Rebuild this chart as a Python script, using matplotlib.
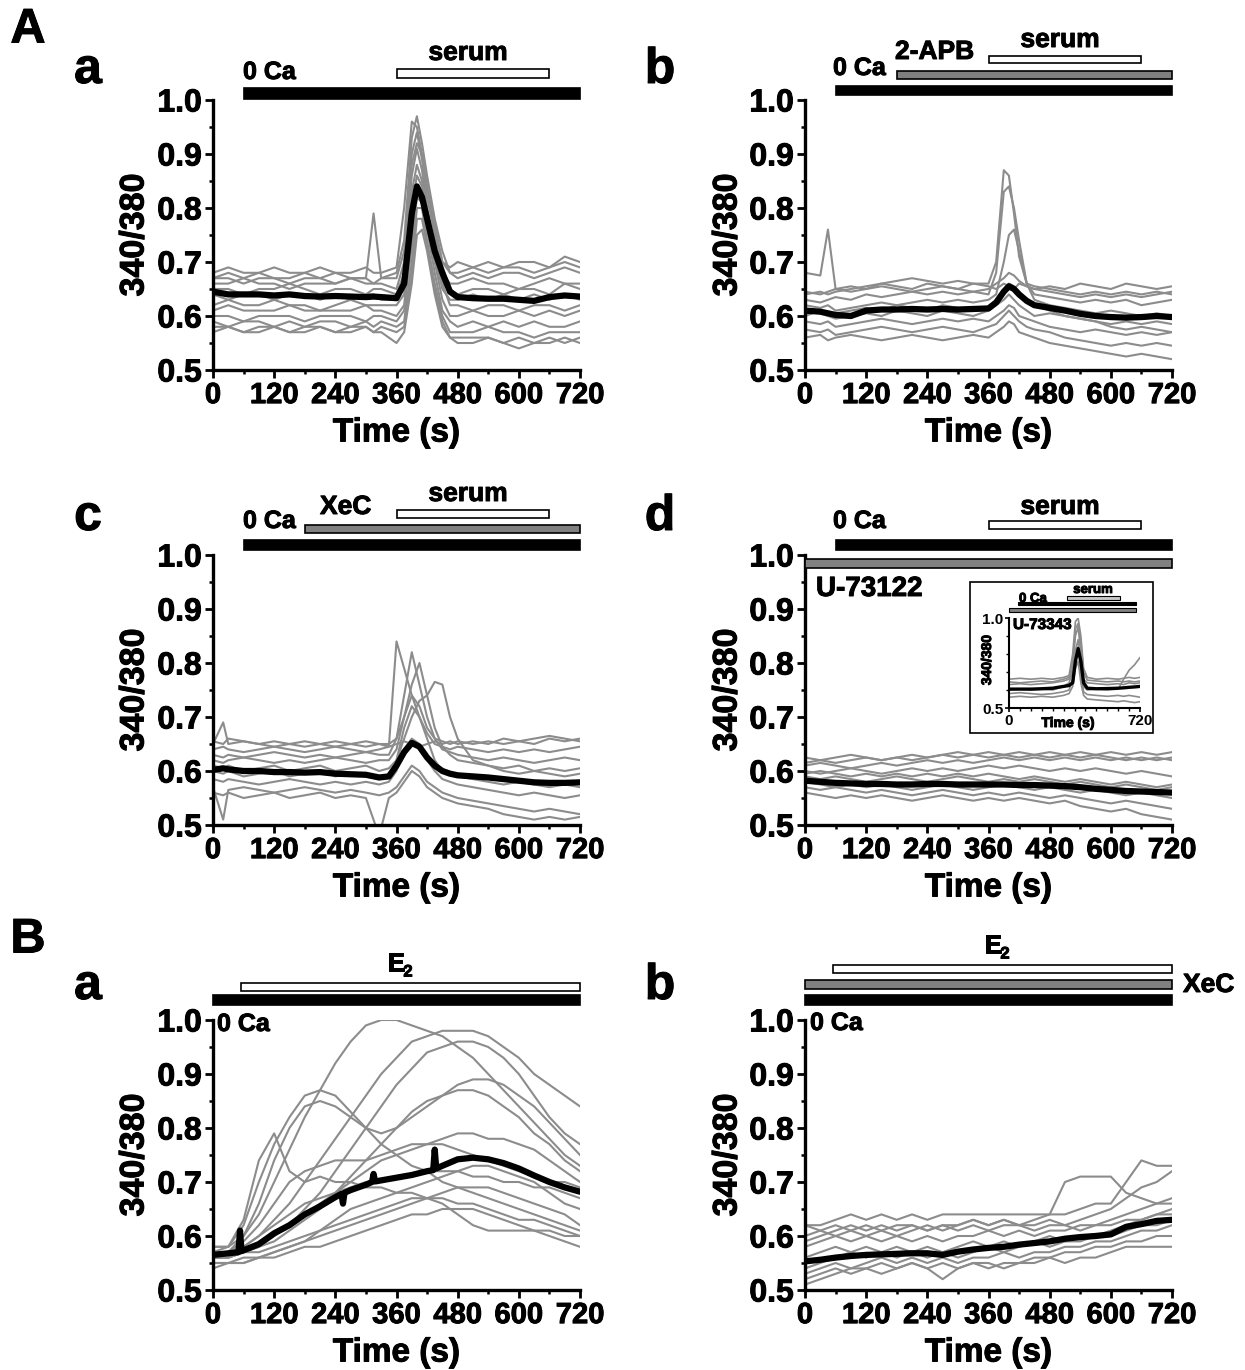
import matplotlib.pyplot as plt
import matplotlib.transforms as mtransforms
import matplotlib.patheffects as pe
from matplotlib.patches import Rectangle
from matplotlib.ticker import MultipleLocator

plt.rcParams['font.family'] = ['Liberation Sans', 'DejaVu Sans']
plt.rcParams['font.weight'] = 'bold'

W, H = 1245, 1370
GRAY = '#8c8c8c'
BARGRAY = '#808080'
HEAVY = [pe.withStroke(linewidth=0.7, foreground='black')]

# ---------------- data (ratio 340/380) ----------------
# A-a : 0 Ca, serum
t_aa = [0, 30, 60, 90, 120, 150, 180, 210, 240, 270, 300, 315, 330, 360,
        375, 390, 400, 410, 420, 435, 450, 465, 480,
        510, 540, 570, 600, 630, 660, 690, 720]
cells_aa = [
    [0.68, 0.69, 0.68, 0.68, 0.69, 0.68, 0.68, 0.69, 0.68, 0.68, 0.69, 0.68, 0.68, 0.69,
     0.80, 0.96, 0.95, 0.90, 0.84, 0.76, 0.70, 0.69, 0.70, 0.69, 0.70, 0.69, 0.70, 0.70, 0.69, 0.71, 0.70],
    [0.67, 0.68, 0.67, 0.68, 0.67, 0.67, 0.68, 0.67, 0.68, 0.67, 0.67, 0.79, 0.67, 0.68,
     0.74, 0.93, 0.97, 0.92, 0.86, 0.78, 0.72, 0.68, 0.67, 0.68, 0.67, 0.68, 0.68, 0.67, 0.68, 0.69, 0.68],
    [0.66, 0.66, 0.67, 0.66, 0.66, 0.65, 0.66, 0.66, 0.66, 0.67, 0.66, 0.66, 0.66, 0.65,
     0.70, 0.90, 0.94, 0.89, 0.82, 0.75, 0.68, 0.66, 0.66, 0.67, 0.66, 0.66, 0.65, 0.66, 0.67, 0.66, 0.66],
    [0.65, 0.65, 0.64, 0.65, 0.65, 0.66, 0.65, 0.64, 0.65, 0.65, 0.64, 0.65, 0.65, 0.64,
     0.68, 0.86, 0.91, 0.87, 0.80, 0.72, 0.66, 0.65, 0.64, 0.65, 0.65, 0.64, 0.65, 0.65, 0.64, 0.66, 0.65],
    [0.64, 0.63, 0.64, 0.64, 0.63, 0.64, 0.64, 0.63, 0.64, 0.63, 0.64, 0.64, 0.63, 0.63,
     0.66, 0.83, 0.88, 0.85, 0.79, 0.71, 0.65, 0.63, 0.63, 0.64, 0.63, 0.64, 0.63, 0.64, 0.63, 0.64, 0.63],
    [0.62, 0.63, 0.62, 0.62, 0.63, 0.62, 0.62, 0.61, 0.62, 0.63, 0.62, 0.62, 0.62, 0.62,
     0.64, 0.80, 0.86, 0.84, 0.80, 0.73, 0.66, 0.62, 0.62, 0.61, 0.62, 0.62, 0.61, 0.62, 0.62, 0.61, 0.62],
    [0.61, 0.62, 0.61, 0.61, 0.61, 0.62, 0.61, 0.61, 0.61, 0.61, 0.62, 0.61, 0.61, 0.60,
     0.62, 0.76, 0.84, 0.82, 0.77, 0.70, 0.63, 0.60, 0.60, 0.61, 0.60, 0.60, 0.61, 0.60, 0.61, 0.60, 0.61],
    [0.60, 0.60, 0.59, 0.60, 0.60, 0.60, 0.59, 0.60, 0.60, 0.60, 0.59, 0.60, 0.60, 0.59,
     0.61, 0.73, 0.82, 0.81, 0.76, 0.68, 0.61, 0.59, 0.58, 0.59, 0.58, 0.59, 0.58, 0.59, 0.58, 0.58, 0.59],
    [0.59, 0.58, 0.59, 0.59, 0.58, 0.59, 0.58, 0.59, 0.59, 0.58, 0.59, 0.58, 0.59, 0.58,
     0.59, 0.70, 0.80, 0.80, 0.74, 0.66, 0.60, 0.57, 0.57, 0.57, 0.58, 0.57, 0.57, 0.56, 0.57, 0.57, 0.57],
    [0.58, 0.58, 0.57, 0.58, 0.58, 0.57, 0.58, 0.58, 0.57, 0.58, 0.58, 0.57, 0.58, 0.57,
     0.58, 0.68, 0.78, 0.78, 0.73, 0.65, 0.59, 0.56, 0.56, 0.56, 0.56, 0.55, 0.56, 0.55, 0.56, 0.55, 0.56],
    [0.57, 0.58, 0.57, 0.57, 0.58, 0.57, 0.57, 0.58, 0.57, 0.57, 0.58, 0.57, 0.57, 0.55,
     0.57, 0.66, 0.75, 0.76, 0.72, 0.64, 0.58, 0.56, 0.55, 0.55, 0.56, 0.55, 0.54, 0.55, 0.55, 0.56, 0.55],
    [0.67, 0.67, 0.66, 0.67, 0.67, 0.66, 0.67, 0.67, 0.66, 0.67, 0.67, 0.66, 0.67, 0.67,
     0.72, 0.88, 0.92, 0.90, 0.84, 0.77, 0.70, 0.68, 0.68, 0.69, 0.68, 0.69, 0.69, 0.68, 0.69, 0.70, 0.69],
]
mean_aa = [0.645, 0.64, 0.64, 0.64, 0.638, 0.64, 0.637, 0.636, 0.637, 0.636, 0.635, 0.636, 0.635, 0.633,
           0.66, 0.79, 0.84, 0.82, 0.78, 0.72, 0.68, 0.645, 0.635,
           0.633, 0.632, 0.632, 0.63, 0.628, 0.635, 0.638, 0.636]

# A-b : 0 Ca, 2-APB, serum
t_ab = [0, 30, 45, 60, 90, 120, 150, 180, 210, 240,
        270, 300, 330, 360, 375, 390, 400, 410, 420, 435,
        450, 480, 510, 540, 570, 600, 630, 660, 690, 720]
cells_ab = [
    [0.68, 0.675, 0.76, 0.65, 0.655, 0.65, 0.66, 0.655, 0.65, 0.66,
     0.655, 0.65, 0.66, 0.655, 0.65, 0.66, 0.655, 0.65, 0.66, 0.655,
     0.65, 0.655, 0.65, 0.66, 0.655, 0.65, 0.66, 0.655, 0.65, 0.655],
    [0.64, 0.645, 0.64, 0.645, 0.65, 0.655, 0.66, 0.665, 0.67, 0.665,
     0.66, 0.665, 0.66, 0.66, 0.70, 0.87, 0.86, 0.79, 0.71, 0.66,
     0.655, 0.65, 0.645, 0.64, 0.645, 0.64, 0.645, 0.64, 0.645, 0.64],
    [0.63, 0.625, 0.63, 0.635, 0.63, 0.64, 0.635, 0.64, 0.645, 0.64,
     0.645, 0.64, 0.645, 0.64, 0.68, 0.83, 0.84, 0.80, 0.74, 0.66,
     0.64, 0.635, 0.63, 0.625, 0.63, 0.625, 0.63, 0.62, 0.625, 0.63],
    [0.62, 0.615, 0.62, 0.61, 0.615, 0.62, 0.625, 0.62, 0.625, 0.63,
     0.625, 0.63, 0.625, 0.63, 0.64, 0.70, 0.75, 0.76, 0.72, 0.66,
     0.63, 0.62, 0.615, 0.61, 0.605, 0.61, 0.605, 0.60, 0.605, 0.60],
    [0.60, 0.61, 0.60, 0.595, 0.60, 0.605, 0.60, 0.61, 0.605, 0.60,
     0.61, 0.605, 0.60, 0.61, 0.62, 0.63, 0.64, 0.63, 0.62, 0.61,
     0.60, 0.605, 0.60, 0.595, 0.59, 0.585, 0.59, 0.585, 0.59, 0.585],
    [0.59, 0.585, 0.59, 0.58, 0.585, 0.59, 0.595, 0.59, 0.585, 0.59,
     0.595, 0.59, 0.595, 0.59, 0.60, 0.61, 0.62, 0.615, 0.60, 0.595,
     0.59, 0.58, 0.575, 0.57, 0.575, 0.57, 0.565, 0.57, 0.565, 0.57],
    [0.575, 0.57, 0.575, 0.565, 0.57, 0.575, 0.58, 0.575, 0.57, 0.575,
     0.58, 0.575, 0.57, 0.58, 0.585, 0.60, 0.61, 0.60, 0.59, 0.58,
     0.575, 0.57, 0.56, 0.555, 0.55, 0.545, 0.55, 0.545, 0.55, 0.545],
    [0.56, 0.565, 0.555, 0.56, 0.565, 0.56, 0.555, 0.56, 0.565, 0.56,
     0.555, 0.56, 0.565, 0.56, 0.57, 0.58, 0.59, 0.585, 0.57, 0.565,
     0.56, 0.55, 0.545, 0.54, 0.535, 0.53, 0.525, 0.53, 0.525, 0.52],
    [0.645, 0.64, 0.645, 0.65, 0.645, 0.65, 0.655, 0.65, 0.645, 0.65,
     0.655, 0.65, 0.645, 0.65, 0.66, 0.67, 0.68, 0.675, 0.665, 0.655,
     0.65, 0.645, 0.64, 0.635, 0.64, 0.635, 0.64, 0.635, 0.64, 0.645],
    [0.61, 0.605, 0.60, 0.605, 0.61, 0.615, 0.61, 0.62, 0.615, 0.61,
     0.62, 0.615, 0.61, 0.615, 0.63, 0.65, 0.66, 0.655, 0.645, 0.63,
     0.62, 0.61, 0.60, 0.595, 0.59, 0.58, 0.575, 0.58, 0.575, 0.57],
]
mean_ab = [0.61, 0.608, 0.605, 0.602, 0.60, 0.61, 0.612, 0.612, 0.613, 0.612,
           0.613, 0.612, 0.613, 0.614, 0.625, 0.645, 0.655, 0.65, 0.64, 0.628,
           0.62, 0.615, 0.61, 0.604, 0.60, 0.598, 0.597, 0.598, 0.60, 0.598]

# A-c : 0 Ca, XeC, serum
t_ac = [0, 20, 30, 60, 90, 120, 150, 180, 210, 240,
        270, 300, 326, 345, 360,
        375, 390, 405, 420, 435, 450, 465, 480,
        510, 540, 570, 600, 630, 660, 690, 720]
cells_ac = [
    [0.65, 0.69, 0.65, 0.655, 0.65, 0.645, 0.65, 0.655, 0.65, 0.645, 0.65, 0.655, 0.65, 0.645, 0.65,
     0.655, 0.65, 0.645, 0.65, 0.655, 0.65, 0.655, 0.65, 0.655, 0.65, 0.66, 0.655, 0.65, 0.66, 0.655, 0.66],
    [0.64, 0.645, 0.64, 0.635, 0.64, 0.645, 0.64, 0.635, 0.64, 0.645, 0.64, 0.635, 0.64, 0.645, 0.84,
     0.79, 0.74, 0.70, 0.67, 0.65, 0.645, 0.64, 0.645, 0.64, 0.635, 0.64, 0.635, 0.64, 0.635, 0.64, 0.645],
    [0.63, 0.625, 0.63, 0.625, 0.63, 0.635, 0.63, 0.625, 0.63, 0.625, 0.63, 0.635, 0.63, 0.63, 0.66,
     0.74, 0.82, 0.76, 0.70, 0.66, 0.64, 0.635, 0.63, 0.625, 0.62, 0.625, 0.62, 0.615, 0.62, 0.625, 0.62],
    [0.62, 0.615, 0.62, 0.625, 0.62, 0.615, 0.62, 0.615, 0.62, 0.625, 0.62, 0.615, 0.62, 0.62, 0.64,
     0.70, 0.76, 0.80, 0.74, 0.68, 0.645, 0.63, 0.62, 0.615, 0.61, 0.605, 0.61, 0.60, 0.605, 0.60, 0.605],
    [0.61, 0.605, 0.61, 0.60, 0.605, 0.61, 0.60, 0.605, 0.61, 0.60, 0.605, 0.61, 0.60, 0.605, 0.62,
     0.66, 0.70, 0.73, 0.74, 0.765, 0.76, 0.70, 0.66, 0.62, 0.61, 0.60, 0.595, 0.60, 0.595, 0.59, 0.595],
    [0.60, 0.595, 0.60, 0.59, 0.595, 0.60, 0.59, 0.595, 0.60, 0.59, 0.595, 0.59, 0.585, 0.59, 0.62,
     0.68, 0.72, 0.70, 0.66, 0.62, 0.60, 0.595, 0.59, 0.585, 0.58, 0.575, 0.58, 0.575, 0.57, 0.575, 0.57],
    [0.585, 0.58, 0.585, 0.58, 0.575, 0.58, 0.585, 0.58, 0.575, 0.58, 0.575, 0.58, 0.575, 0.58, 0.60,
     0.64, 0.66, 0.65, 0.62, 0.60, 0.585, 0.58, 0.575, 0.57, 0.565, 0.56, 0.555, 0.56, 0.555, 0.55, 0.555],
    [0.57, 0.51, 0.565, 0.57, 0.565, 0.56, 0.565, 0.57, 0.565, 0.56, 0.565, 0.56, 0.555, 0.56, 0.57,
     0.59, 0.61, 0.60, 0.58, 0.57, 0.56, 0.555, 0.55, 0.545, 0.54, 0.535, 0.53, 0.525, 0.53, 0.525, 0.52],
    [0.56, 0.555, 0.56, 0.55, 0.555, 0.56, 0.55, 0.555, 0.56, 0.55, 0.555, 0.55, 0.48, 0.55, 0.56,
     0.58, 0.60, 0.59, 0.57, 0.56, 0.55, 0.545, 0.54, 0.535, 0.53, 0.52, 0.515, 0.51, 0.515, 0.51, 0.515],
    [0.655, 0.65, 0.66, 0.655, 0.65, 0.655, 0.65, 0.645, 0.65, 0.655, 0.65, 0.645, 0.65, 0.65, 0.66,
     0.70, 0.74, 0.72, 0.68, 0.66, 0.655, 0.65, 0.655, 0.65, 0.655, 0.65, 0.655, 0.66, 0.665, 0.66, 0.655],
]
mean_ac = [0.602, 0.605, 0.603, 0.60, 0.60, 0.598, 0.598, 0.597, 0.598, 0.595, 0.594, 0.593, 0.588, 0.59, 0.61,
           0.635, 0.652, 0.645, 0.625, 0.61, 0.60, 0.595, 0.592,
           0.59, 0.588, 0.585, 0.582, 0.579, 0.578, 0.578, 0.579]

# A-d : U-73122 throughout
t_ad = [0, 30, 60, 90, 120, 150, 180, 210, 240, 270, 300, 330, 360,
        390, 420, 450, 480, 510, 540, 570, 600, 630, 660, 690, 720]
cells_ad = [
    [0.625, 0.62, 0.625, 0.63, 0.625, 0.62, 0.625, 0.63, 0.625, 0.63, 0.635, 0.63, 0.635,
     0.63, 0.635, 0.63, 0.635, 0.63, 0.635, 0.63, 0.635, 0.63, 0.635, 0.63, 0.635],
    [0.61, 0.615, 0.61, 0.605, 0.61, 0.615, 0.61, 0.615, 0.62, 0.615, 0.62, 0.615, 0.62,
     0.625, 0.62, 0.625, 0.62, 0.625, 0.62, 0.625, 0.62, 0.625, 0.62, 0.625, 0.62],
    [0.60, 0.595, 0.60, 0.605, 0.60, 0.595, 0.60, 0.605, 0.60, 0.605, 0.60, 0.605, 0.61,
     0.605, 0.61, 0.605, 0.60, 0.605, 0.60, 0.605, 0.60, 0.595, 0.60, 0.595, 0.59],
    [0.59, 0.585, 0.59, 0.585, 0.58, 0.585, 0.59, 0.585, 0.58, 0.585, 0.59, 0.585, 0.58,
     0.585, 0.58, 0.585, 0.58, 0.575, 0.58, 0.575, 0.57, 0.575, 0.57, 0.565, 0.57],
    [0.58, 0.575, 0.57, 0.575, 0.57, 0.575, 0.57, 0.565, 0.57, 0.575, 0.57, 0.565, 0.57,
     0.575, 0.57, 0.565, 0.57, 0.565, 0.56, 0.565, 0.56, 0.555, 0.56, 0.555, 0.55],
    [0.57, 0.565, 0.57, 0.565, 0.56, 0.565, 0.56, 0.555, 0.56, 0.565, 0.56, 0.555, 0.56,
     0.555, 0.56, 0.555, 0.55, 0.555, 0.55, 0.545, 0.54, 0.545, 0.54, 0.535, 0.53],
    [0.56, 0.555, 0.55, 0.555, 0.55, 0.555, 0.55, 0.545, 0.55, 0.555, 0.55, 0.545, 0.55,
     0.545, 0.55, 0.545, 0.54, 0.545, 0.535, 0.53, 0.525, 0.53, 0.52, 0.515, 0.51],
    [0.595, 0.60, 0.595, 0.59, 0.595, 0.59, 0.595, 0.59, 0.595, 0.59, 0.595, 0.59, 0.595,
     0.59, 0.585, 0.59, 0.585, 0.58, 0.585, 0.58, 0.575, 0.58, 0.575, 0.57, 0.575],
    [0.615, 0.62, 0.615, 0.62, 0.625, 0.62, 0.625, 0.62, 0.625, 0.63, 0.625, 0.63, 0.625,
     0.63, 0.625, 0.63, 0.625, 0.63, 0.625, 0.63, 0.625, 0.62, 0.625, 0.62, 0.625],
]
mean_ad = [0.582, 0.58, 0.578, 0.577, 0.576, 0.576, 0.575, 0.575, 0.576, 0.576, 0.575, 0.575, 0.575,
           0.575, 0.574, 0.574, 0.573, 0.572, 0.57, 0.567, 0.565, 0.563, 0.562, 0.561, 0.56]

# A-d inset : U-73343
t_in = [0, 60, 120, 180, 240, 300, 330, 350, 365, 380,
        395, 410, 430, 480, 540, 600, 630, 660, 690, 720]
cells_in = [
    [0.66, 0.665, 0.66, 0.665, 0.66, 0.67, 0.68, 0.80, 0.98, 1.0,
     0.90, 0.72, 0.67, 0.66, 0.665, 0.66, 0.665, 0.67, 0.665, 0.67],
    [0.63, 0.635, 0.63, 0.635, 0.64, 0.65, 0.66, 0.72, 0.90, 0.95,
     0.80, 0.66, 0.64, 0.635, 0.63, 0.635, 0.63, 0.64, 0.635, 0.64],
    [0.60, 0.605, 0.60, 0.605, 0.60, 0.62, 0.64, 0.70, 0.82, 0.88,
     0.72, 0.62, 0.60, 0.605, 0.60, 0.605, 0.66, 0.71, 0.74, 0.78],
    [0.58, 0.585, 0.58, 0.575, 0.58, 0.59, 0.60, 0.66, 0.78, 0.84,
     0.68, 0.59, 0.575, 0.57, 0.565, 0.57, 0.565, 0.57, 0.565, 0.56],
    [0.56, 0.565, 0.56, 0.565, 0.56, 0.57, 0.58, 0.62, 0.72, 0.76,
     0.64, 0.57, 0.55, 0.545, 0.54, 0.535, 0.54, 0.535, 0.53, 0.535],
    [0.645, 0.64, 0.645, 0.65, 0.645, 0.66, 0.67, 0.76, 0.94, 0.97,
     0.86, 0.70, 0.655, 0.65, 0.645, 0.65, 0.645, 0.65, 0.645, 0.65],
]
mean_in = [0.605, 0.605, 0.605, 0.607, 0.61, 0.62, 0.625, 0.64, 0.76, 0.83,
           0.76, 0.64, 0.61, 0.607, 0.608, 0.61, 0.612, 0.615, 0.617, 0.62]

# B-a : 0 Ca, E2
t_ba = [0, 30, 60, 90, 120, 150, 180, 210, 240, 270, 300, 330, 360,
        390, 420, 450, 480, 510, 540, 570, 600, 630, 660, 690, 720]
cells_ba = [
    [0.58, 0.58, 0.60, 0.64, 0.70, 0.76, 0.82, 0.87, 0.92, 0.96, 0.99, 1.0, 1.0,
     0.99, 0.98, 0.97, 0.95, 0.93, 0.90, 0.87, 0.84, 0.81, 0.78, 0.75, 0.73],
    [0.57, 0.57, 0.58, 0.60, 0.63, 0.66, 0.70, 0.74, 0.78, 0.82, 0.86, 0.90, 0.93,
     0.96, 0.97, 0.98, 0.98, 0.98, 0.97, 0.95, 0.93, 0.90, 0.88, 0.86, 0.84],
    [0.56, 0.56, 0.57, 0.58, 0.60, 0.62, 0.65, 0.68, 0.72, 0.76, 0.80, 0.84, 0.88,
     0.91, 0.94, 0.95, 0.96, 0.96, 0.95, 0.93, 0.90, 0.86, 0.82, 0.79, 0.77],
    [0.58, 0.58, 0.62, 0.70, 0.77, 0.82, 0.86, 0.87, 0.86, 0.83, 0.80, 0.77, 0.75,
     0.73, 0.72, 0.70, 0.69, 0.68, 0.67, 0.66, 0.65, 0.64, 0.63, 0.62, 0.61],
    [0.57, 0.58, 0.63, 0.74, 0.79, 0.72, 0.70, 0.71, 0.70, 0.70, 0.69, 0.69, 0.68,
     0.68, 0.67, 0.67, 0.66, 0.66, 0.65, 0.64, 0.63, 0.63, 0.62, 0.61, 0.60],
    [0.56, 0.56, 0.57, 0.58, 0.59, 0.61, 0.63, 0.65, 0.68, 0.71, 0.74, 0.77, 0.80,
     0.83, 0.85, 0.86, 0.87, 0.87, 0.86, 0.84, 0.82, 0.79, 0.77, 0.74, 0.72],
    [0.57, 0.57, 0.60, 0.66, 0.74, 0.80, 0.84, 0.85, 0.84, 0.82, 0.80, 0.79, 0.80,
     0.82, 0.84, 0.86, 0.88, 0.89, 0.89, 0.88, 0.86, 0.84, 0.81, 0.78, 0.75],
    [0.56, 0.56, 0.57, 0.58, 0.60, 0.62, 0.64, 0.66, 0.68, 0.70, 0.72, 0.74, 0.75,
     0.76, 0.77, 0.78, 0.79, 0.79, 0.78, 0.78, 0.77, 0.76, 0.74, 0.72, 0.70],
    [0.56, 0.57, 0.58, 0.60, 0.62, 0.64, 0.66, 0.67, 0.68, 0.69, 0.70, 0.70, 0.71,
     0.71, 0.72, 0.72, 0.72, 0.71, 0.71, 0.70, 0.70, 0.69, 0.69, 0.68, 0.67],
    [0.55, 0.55, 0.56, 0.56, 0.57, 0.58, 0.59, 0.60, 0.61, 0.62, 0.63, 0.64, 0.65,
     0.66, 0.67, 0.68, 0.69, 0.69, 0.69, 0.68, 0.67, 0.66, 0.65, 0.64, 0.62],
    [0.55, 0.55, 0.55, 0.56, 0.56, 0.57, 0.58, 0.58, 0.59, 0.60, 0.61, 0.62, 0.63,
     0.64, 0.64, 0.65, 0.65, 0.65, 0.64, 0.63, 0.62, 0.61, 0.60, 0.59, 0.58],
    [0.56, 0.56, 0.57, 0.57, 0.58, 0.59, 0.60, 0.61, 0.62, 0.63, 0.64, 0.65, 0.66,
     0.67, 0.67, 0.66, 0.64, 0.62, 0.61, 0.61, 0.61, 0.61, 0.61, 0.60, 0.60],
    [0.57, 0.57, 0.59, 0.62, 0.66, 0.70, 0.72, 0.73, 0.74, 0.74, 0.74, 0.75, 0.76,
     0.77, 0.77, 0.77, 0.76, 0.75, 0.74, 0.73, 0.72, 0.71, 0.70, 0.70, 0.69],
    [0.54, 0.55, 0.55, 0.56, 0.57, 0.58, 0.59, 0.61, 0.63, 0.65, 0.66, 0.67, 0.68,
     0.69, 0.70, 0.71, 0.72, 0.73, 0.73, 0.72, 0.71, 0.70, 0.68, 0.66, 0.65],
]
t_ba_mean = [0, 30, 50, 53, 56, 90, 120, 150, 180, 210, 240, 252, 255, 258, 270,
             300, 312, 315, 318, 330, 360, 390, 420, 432, 435, 438, 450, 480,
             510, 540, 570, 600, 630, 660, 690, 720]
mean_ba = [0.565, 0.568, 0.57, 0.61, 0.572, 0.585, 0.605, 0.62, 0.64, 0.655, 0.672, 0.678, 0.66, 0.68, 0.685,
           0.695, 0.70, 0.715, 0.701, 0.703, 0.708, 0.713, 0.72, 0.722, 0.76, 0.725, 0.73, 0.742,
           0.745, 0.742, 0.735, 0.725, 0.712, 0.70, 0.69, 0.682]

# B-b : 0 Ca, XeC, E2
t_bb = [0, 30, 60, 90, 120, 150, 180, 210, 240, 270, 300, 330, 360,
        390, 420, 450, 480, 510, 540, 570, 600, 630, 660, 690, 720]
cells_bb = [
    [0.62, 0.62, 0.63, 0.64, 0.63, 0.64, 0.63, 0.64, 0.63, 0.64, 0.64, 0.64, 0.64,
     0.64, 0.64, 0.64, 0.64, 0.70, 0.71, 0.71, 0.71, 0.68, 0.67, 0.66, 0.66],
    [0.60, 0.61, 0.60, 0.61, 0.60, 0.61, 0.60, 0.61, 0.62, 0.61, 0.62, 0.63, 0.62,
     0.63, 0.62, 0.63, 0.64, 0.64, 0.65, 0.66, 0.66, 0.70, 0.74, 0.73, 0.73],
    [0.62, 0.61, 0.62, 0.61, 0.62, 0.61, 0.62, 0.62, 0.61, 0.62, 0.62, 0.63, 0.62,
     0.63, 0.62, 0.62, 0.63, 0.62, 0.63, 0.64, 0.65, 0.67, 0.69, 0.70, 0.72],
    [0.58, 0.59, 0.60, 0.59, 0.60, 0.59, 0.60, 0.59, 0.60, 0.59, 0.60, 0.60, 0.61,
     0.60, 0.61, 0.60, 0.61, 0.61, 0.62, 0.62, 0.63, 0.64, 0.65, 0.66, 0.67],
    [0.56, 0.57, 0.58, 0.57, 0.58, 0.57, 0.58, 0.57, 0.58, 0.57, 0.58, 0.59, 0.58,
     0.59, 0.58, 0.59, 0.60, 0.59, 0.60, 0.60, 0.61, 0.62, 0.63, 0.64, 0.65],
    [0.54, 0.55, 0.56, 0.57, 0.56, 0.57, 0.56, 0.57, 0.56, 0.57, 0.56, 0.57, 0.58,
     0.57, 0.58, 0.59, 0.58, 0.59, 0.59, 0.60, 0.60, 0.61, 0.62, 0.62, 0.63],
    [0.53, 0.54, 0.55, 0.54, 0.55, 0.56, 0.55, 0.56, 0.55, 0.56, 0.55, 0.56, 0.56,
     0.57, 0.56, 0.57, 0.57, 0.58, 0.58, 0.59, 0.59, 0.60, 0.61, 0.61, 0.62],
    [0.51, 0.52, 0.53, 0.54, 0.54, 0.55, 0.54, 0.55, 0.54, 0.52, 0.54, 0.55, 0.54,
     0.55, 0.55, 0.56, 0.56, 0.57, 0.57, 0.58, 0.58, 0.59, 0.59, 0.60, 0.60],
    [0.52, 0.53, 0.54, 0.53, 0.54, 0.53, 0.54, 0.55, 0.54, 0.55, 0.54, 0.55, 0.55,
     0.54, 0.55, 0.55, 0.56, 0.55, 0.56, 0.56, 0.57, 0.58, 0.58, 0.58, 0.58],
    [0.59, 0.60, 0.61, 0.62, 0.61, 0.62, 0.61, 0.62, 0.61, 0.62, 0.61, 0.62, 0.61,
     0.62, 0.62, 0.61, 0.62, 0.62, 0.61, 0.62, 0.62, 0.63, 0.63, 0.64, 0.64],
]
mean_bb = [0.553, 0.556, 0.56, 0.563, 0.565, 0.566, 0.567, 0.568, 0.568, 0.565, 0.571, 0.575, 0.578,
           0.58, 0.584, 0.587, 0.59, 0.595, 0.598, 0.60, 0.603, 0.617, 0.622, 0.628, 0.63]

xticks = [0, 120, 240, 360, 480, 600, 720]
yticks = [0.5, 0.6, 0.7, 0.8, 0.9, 1.0]
ytick_labels = ['0.5', '0.6', '0.7', '0.8', '0.9', '1.0']

# ---------------- figure ----------------
fig = plt.figure(figsize=(W / 100, H / 100), dpi=100)


def ftext(x, y, s, size, ha='left', **kw):
    fig.text(x / W, 1 - y / H, s, fontsize=size, fontweight='bold', ha=ha, va='center',
             path_effects=HEAVY, **kw)


def make_axes(x0, x1, ytop, ybot):
    return fig.add_axes([x0 / W, 1 - ybot / H, (x1 - x0) / W, (ybot - ytop) / H])


def bar(ax, t0, t1, ytop, ybot, fc, lw=1.2):
    tr = mtransforms.blended_transform_factory(ax.transData, fig.transFigure)
    ax.add_patch(Rectangle((t0, 1 - ybot / H), t1 - t0, (ybot - ytop) / H, transform=tr,
                           facecolor=fc, edgecolor='black', lw=lw, clip_on=False, zorder=6))


def traces(ax, t, cells, tm, mean, lw_cell=1.5, lw_mean=4.5):
    for c in cells:
        ax.plot(t, c, color=GRAY, lw=lw_cell, zorder=2)
    ax.plot(tm, mean, color='black', lw=lw_mean, zorder=3, solid_capstyle='round')


def heavy_ticks(ax):
    for lab in ax.get_xticklabels() + ax.get_yticklabels():
        lab.set_path_effects(HEAVY)


def style(ax, x0, x1, ytop, ybot, ylab_x):
    ax.set_xlim(0, 720)
    ax.set_ylim(0.5, 1.0)
    ax.spines[['top', 'right']].set_visible(False)
    ax.spines[['left', 'bottom']].set_linewidth(2.4)
    ax.set_xticks(xticks)
    ax.set_yticks(yticks, labels=ytick_labels)
    ax.xaxis.set_minor_locator(MultipleLocator(60))
    ax.yaxis.set_minor_locator(MultipleLocator(0.05))
    ax.tick_params(which='major', length=6, width=2, pad=2)
    ax.tick_params(which='minor', length=3, width=1.8)
    ax.tick_params(axis='y', labelsize=23)
    ax.tick_params(axis='x', labelsize=21)
    ax.patch.set_alpha(0)
    heavy_ticks(ax)
    ftext((x0 + x1) / 2, ybot + 63, 'Time (s)', 24, ha='center')
    ftext(ylab_x, (ytop + ybot) / 2, '340/380', 24.5, ha='center', rotation=90)


L0, L1 = 213, 580
R0, R1 = 805, 1172
ROWS = [(100, 370), (555, 825), (1020, 1290)]
ANN = 19

# A-a
ax = make_axes(L0, L1, *ROWS[0])
traces(ax, t_aa, cells_aa, t_aa, mean_aa)
style(ax, L0, L1, *ROWS[0], 135)
bar(ax, 60, 720, 88, 99, 'black')
bar(ax, 360, 660, 69, 78, 'white')
ftext(243, 72, '0 Ca', 18)
ftext(468, 53, 'serum', ANN, ha='center')
ftext(88, 70, 'a', 36, ha='center')
ftext(28, 30, 'A', 35, ha='center')

# A-b
ax = make_axes(R0, R1, *ROWS[0])
traces(ax, t_ab, cells_ab, t_ab, mean_ab)
style(ax, R0, R1, *ROWS[0], 728)
bar(ax, 60, 720, 86, 95, 'black')
bar(ax, 180, 720, 71, 79, BARGRAY)
bar(ax, 360, 660, 56, 63, 'white')
ftext(833, 68, '0 Ca', 18)
ftext(895, 52, '2-APB', ANN)
ftext(1060, 40, 'serum', ANN, ha='center')
ftext(660, 70, 'b', 36, ha='center')

# A-c
ax = make_axes(L0, L1, *ROWS[1])
traces(ax, t_ac, cells_ac, t_ac, mean_ac)
style(ax, L0, L1, *ROWS[1], 135)
bar(ax, 60, 720, 540, 550, 'black')
bar(ax, 180, 720, 525, 533, BARGRAY)
bar(ax, 360, 660, 510, 518, 'white')
ftext(243, 521, '0 Ca', 18)
ftext(320, 507, 'XeC', ANN)
ftext(468, 494, 'serum', ANN, ha='center')
ftext(88, 517, 'c', 36, ha='center')

# A-d
ax = make_axes(R0, R1, *ROWS[1])
traces(ax, t_ad, cells_ad, t_ad, mean_ad)
style(ax, R0, R1, *ROWS[1], 728)
bar(ax, 60, 720, 540, 550, 'black')
bar(ax, 0, 720, 559, 568, BARGRAY)
bar(ax, 360, 660, 521, 529, 'white')
ftext(833, 521, '0 Ca', 18)
ftext(1060, 507, 'serum', ANN, ha='center')
ftext(816, 589, 'U-73122', 20)
ftext(660, 517, 'd', 36, ha='center')

# inset of A-d
fig.add_artist(Rectangle((970 / W, 1 - 733 / H), 183 / W, 151 / H, transform=fig.transFigure,
                         fill=False, edgecolor='black', lw=1.2))
ai = make_axes(1009, 1140, 618, 708)
traces(ai, t_in, cells_in, t_in, mean_in, lw_cell=1.2, lw_mean=2.4)
ai.set_xlim(0, 720)
ai.set_ylim(0.5, 1.0)
ai.spines[['top', 'right']].set_visible(False)
ai.spines[['left', 'bottom']].set_linewidth(1.5)
ai.set_xticks([0, 720])
ai.set_yticks([0.5, 1.0], labels=['0.5', '1.0'])
ai.xaxis.set_minor_locator(MultipleLocator(60))
ai.yaxis.set_minor_locator(MultipleLocator(0.1))
ai.tick_params(which='major', length=3, width=1.2, labelsize=11, pad=1)
ai.tick_params(which='minor', length=2, width=1)
ai.patch.set_alpha(0)
ftext(1068, 723, 'Time (s)', 10, ha='center')
ftext(987, 660, '340/380', 10, ha='center', rotation=90)
bar(ai, 0, 700, 608, 612, BARGRAY, lw=0.8)
bar(ai, 50, 700, 602, 605, 'black', lw=0.8)
bar(ai, 320, 610, 596, 600, '#c8c8c8', lw=0.8)
ftext(1019, 599, '0 Ca', 9.5)
ftext(1093, 590, 'serum', 9.5, ha='center')
ftext(1013, 625, 'U-73343', 11)

# B-a
ax = make_axes(L0, L1, *ROWS[2])
traces(ax, t_ba, cells_ba, t_ba_mean, mean_ba)
style(ax, L0, L1, *ROWS[2], 135)
bar(ax, 0, 720, 995, 1005, 'black')
bar(ax, 55, 720, 983, 991, 'white')
ftext(396, 964, 'E', ANN, ha='center')
ftext(408, 972, '2', 12, ha='center')
ftext(217, 1024, '0 Ca', 18)
ftext(88, 986, 'a', 36, ha='center')
ftext(28, 940, 'B', 35, ha='center')

# B-b
ax = make_axes(R0, R1, *ROWS[2])
traces(ax, t_bb, cells_bb, t_bb, mean_bb)
style(ax, R0, R1, *ROWS[2], 728)
bar(ax, 0, 720, 995, 1005, 'black')
bar(ax, 0, 720, 980, 989, BARGRAY)
bar(ax, 55, 720, 965, 973, 'white')
ftext(993, 946, 'E', ANN, ha='center')
ftext(1005, 954, '2', 12, ha='center')
ftext(1183, 985, 'XeC', ANN)
ftext(810, 1023, '0 Ca', 18)
ftext(660, 986, 'b', 36, ha='center')

fig.savefig('out.png', dpi=100)
